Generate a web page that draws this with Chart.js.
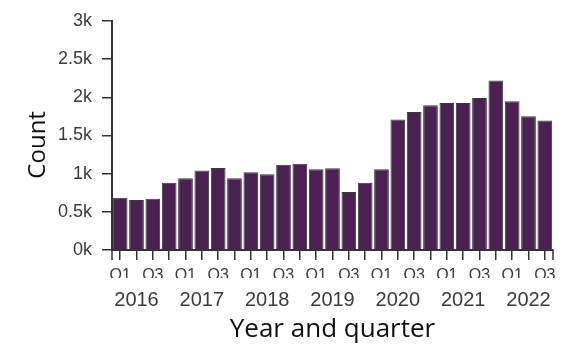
<!DOCTYPE html>
<html>
<head>
<meta charset="utf-8">
<script src="https://cdn.jsdelivr.net/npm/chart.js@4"></script>
<style>
	html, body { margin: 0; padding: 0; background: #fff; }
	#wrap { width: 577px; height: 354px; }
</style>
</head>
<body>
<div id="wrap"><canvas id="quarterChart"></canvas></div>
<script>
// Chart values
const years = ['2016', '2016', '2016', '2016', '2017', '2017', '2017', '2017',
	'2018', '2018', '2018', '2018', '2019', '2019', '2019', '2019',
	'2020', '2020', '2020', '2020', '2021', '2021', '2021', '2021',
	'2022', '2022', '2022'];
const quarters = ['Q1', 'Q2', 'Q3', 'Q4', 'Q1', 'Q2', 'Q3', 'Q4',
	'Q1', 'Q2', 'Q3', 'Q4', 'Q1', 'Q2', 'Q3', 'Q4',
	'Q1', 'Q2', 'Q3', 'Q4', 'Q1', 'Q2', 'Q3', 'Q4',
	'Q1', 'Q2', 'Q3'];
const counts = [685, 655, 672, 882, 940, 1040, 1075, 940,
	1018, 992, 1118, 1131, 1058, 1071, 760, 882,
	1058, 1708, 1809, 1896, 1927, 1927, 1992, 2219,
	1949, 1752, 1695];
const yTicks = [0, 500, 1000, 1500, 2000, 2500, 3000];

const labels = years.map((y, i) => y + ' ' + quarters[i]);

const axisColor = '#333';
const tickColor = '#3c3c3c';

// Outer ticks at both ends of the x axis (d3 style)
const outerTicks = {
	id: 'outerTicks',
	afterDraw(chart) {
		const { ctx, chartArea } = chart;
		ctx.save();
		ctx.strokeStyle = axisColor;
		ctx.lineWidth = 1.5;
		ctx.beginPath();
		for (let x of [chartArea.left, chartArea.right]) {
			ctx.moveTo(x, chartArea.bottom);
			ctx.lineTo(x, chartArea.bottom + 10);
		}
		ctx.stroke();
		ctx.restore();
	}
};

window.onload = () => {
	let context = document.querySelector('#quarterChart');

	new Chart(context, {
		type: 'bar',
		data: {
			labels: labels,
			datasets: [{
				data: counts,
				backgroundColor: '#4b2152',
				borderColor: '#383838',
				borderWidth: 1,
				barPercentage: 0.9,
				categoryPercentage: 1,
			}]
		},
		options: {
			responsive: true,
			maintainAspectRatio: false,
			animation: false,
			layout: { padding: { left: 0, right: 24, top: 21, bottom: 0 } },
			plugins: { legend: { display: false }, tooltip: { enabled: false } },
			scales: {
				x: {
					offset: true,
					weight: 0,
					afterFit: (scale) => { scale.height = 28; },
					grid: { offset: false, drawOnChartArea: false, color: axisColor, tickLength: 10, lineWidth: 1.5 },
					border: { color: axisColor, width: 2 },
					ticks: {
						autoSkip: false,
						maxRotation: 0,
						padding: 6,
						color: tickColor,
						font: { family: 'Liberation Sans', size: 16 },
						callback: (v, i) => (quarters[i] === 'Q1' || quarters[i] === 'Q3') ? quarters[i] : ''
					}
				},
				x2: {
					type: 'category',
					axis: 'x',
					position: 'bottom',
					offset: true,
					weight: 1,
					afterFit: (scale) => { scale.height = 76; },
					grid: { display: false, drawTicks: false },
					border: { display: false },
					ticks: {
						autoSkip: false,
						maxRotation: 0,
						padding: 10,
						color: tickColor,
						font: { family: 'Liberation Sans', size: 20 },
						callback: (v, i) => quarters[i] === 'Q2' ? years[i] : ''
					},
					title: {
						display: true,
						text: 'Year and quarter',
						color: '#111',
						font: { family: 'Open Sans', size: 26 },
						padding: { top: 0, bottom: 9 }
					}
				},
				y: {
					min: 0,
					max: 3000,
					afterFit: (scale) => { scale.width = 112; },
					afterBuildTicks: (scale) => { scale.ticks = yTicks.map(v => ({ value: v })); },
					grid: { drawOnChartArea: false, color: axisColor, tickLength: 10, lineWidth: 1.5 },
					border: { color: axisColor, width: 2 },
					ticks: {
						padding: 10,
						color: tickColor,
						font: { family: 'Liberation Sans', size: 18 },
						callback: (v) => (v / 1000) + 'k'
					},
					title: {
						display: true,
						text: 'Count   ',
						color: '#111',
						font: { family: 'Open Sans', size: 24 },
						padding: { top: 24, bottom: 0 }
					}
				}
			}
		},
		plugins: [outerTicks]
	});
};
</script>
</body>
</html>
